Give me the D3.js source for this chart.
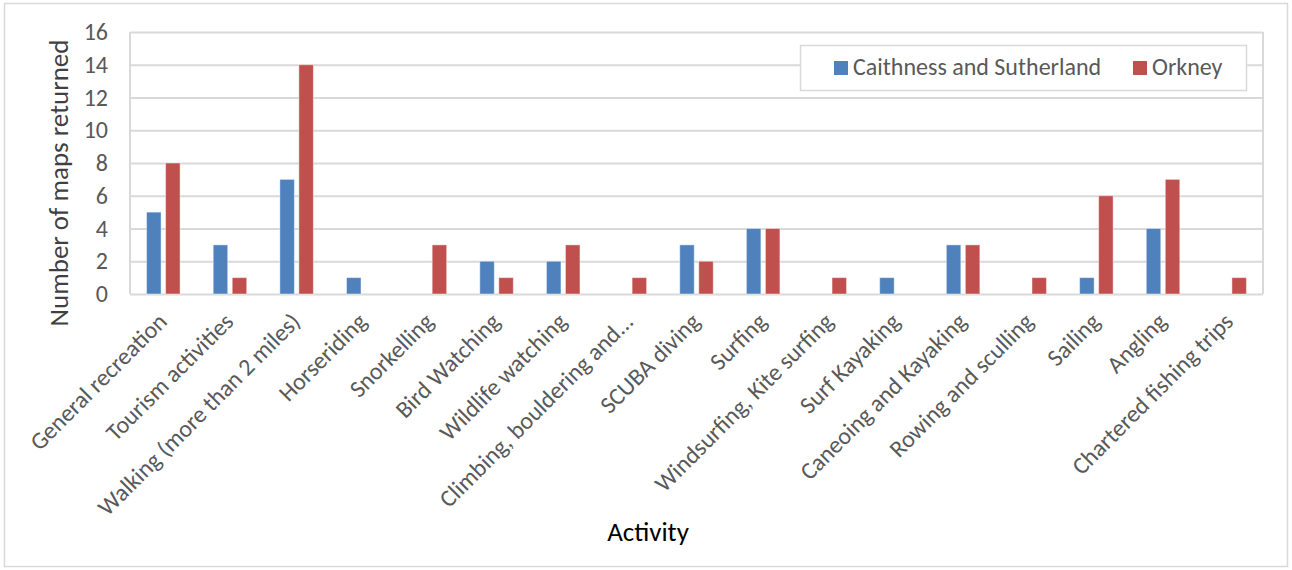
<!DOCTYPE html>
<html><head><meta charset="utf-8">
<script src="https://cdn.jsdelivr.net/npm/d3@7"></script>
<style>
body{margin:0;background:#fff;}
svg{display:block;font-family:"Carlito","Open Sans",sans-serif;}
</style></head>
<body><svg id="c" width="1292" height="570"></svg>
<script>
const categories = ["General recreation","Tourism activities","Walking (more than 2 miles)","Horseriding","Snorkelling","Bird Watching","Wildlife watching","Climbing, bouldering and...","SCUBA diving","Surfing","Windsurfing, Kite surfing","Surf Kayaking","Caneoing and Kayaking","Rowing and sculling","Sailing","Angling","Chartered fishing trips"];
const seriesNames = ["Caithness and Sutherland","Orkney"];
const caithness = [5,3,7,1,0,2,2,0,3,4,0,1,3,0,1,4,0];
const orkney = [8,1,14,0,3,1,3,1,2,4,1,0,3,1,6,7,1];
const yTicks = [0,2,4,6,8,10,12,14,16];
const colors = ["#4f81bd","#c0504d"];
const yTitle = "Number of maps returned";
const xTitle = "Activity";

const svg = d3.select("#c");
svg.append("rect").attr("x",4.5).attr("y",3.5).attr("width",1283).attr("height",563)
  .attr("fill","#fff").attr("stroke","#d9d9d9").attr("stroke-width",1.5);

const L=130,R=1263,T=32,B=294;
const x0=d3.scaleBand().domain(categories).range([L,R]).paddingInner(0).paddingOuter(0);
const x1=d3.scaleBand().domain(seriesNames).range([0,x0.bandwidth()]).paddingInner(0.237).paddingOuter(0.872);
const y=d3.scaleLinear().domain([0,16]).range([B,T]);

const yAxis=d3.axisLeft(y).tickValues(yTicks).tickSize(-(R-L)).tickPadding(22);
const gy=svg.append("g").attr("transform",`translate(${L},0)`).call(yAxis);
gy.select(".domain").remove();
gy.selectAll(".tick line").attr("stroke","#d9d9d9").attr("stroke-width",2);
gy.selectAll(".tick text").attr("fill","#595959").style("font-size","24px").attr("font-family","Carlito, 'Open Sans', sans-serif");
svg.append("line").attr("x1",L).attr("x2",L).attr("y1",T).attr("y2",B).attr("stroke","#d9d9d9").attr("stroke-width",2);
svg.append("line").attr("x1",R).attr("x2",R).attr("y1",T).attr("y2",B).attr("stroke","#d9d9d9").attr("stroke-width",2);

const data=categories.map((c,i)=>({c,vals:[caithness[i],orkney[i]]}));
const g=svg.append("g");
data.forEach(d=>{
  d.vals.forEach((v,j)=>{
    if(v<=0) return;
    g.append("rect").attr("x",x0(d.c)+x1(seriesNames[j])).attr("width",x1.bandwidth())
      .attr("y",y(v)).attr("height",y(0)-y(v)).attr("fill",colors[j])
      .attr("stroke","rgba(255,255,255,0.45)").attr("stroke-width",1);
  });
});

const xAxis=d3.axisBottom(x0).tickSize(0).tickPadding(0);
const gx=svg.append("g").attr("transform",`translate(0,${B})`).call(xAxis);
gx.select(".domain").remove();
gx.selectAll(".tick text").attr("fill","#595959").style("font-size","24px").attr("font-family","Carlito, 'Open Sans', sans-serif")
  .attr("text-anchor","end").attr("dy",null).attr("y",null)
  .attr("transform","translate(5,29) rotate(-45)");

svg.append("text").attr("transform",`translate(68,183) rotate(-90)`).attr("text-anchor","middle")
  .attr("fill","#404040").style("font-size","27px").text(yTitle);
svg.append("text").attr("x",648).attr("y",541).attr("text-anchor","middle").attr("fill","#000").style("font-size","27px").text(xTitle);

const lg=svg.append("g");
lg.append("rect").attr("x",800.5).attr("y",45.5).attr("width",446).attr("height",45).attr("fill","#fff").attr("stroke","#d9d9d9").attr("stroke-width",1.5);
const lx=[834,1133];
seriesNames.forEach((s,j)=>{
  lg.append("rect").attr("x",lx[j]).attr("y",61).attr("width",14).attr("height",14).attr("fill",colors[j]);
  lg.append("text").attr("x",lx[j]+19).attr("y",75).attr("fill","#595959").style("font-size","24px").text(s);
});
</script></body></html>
